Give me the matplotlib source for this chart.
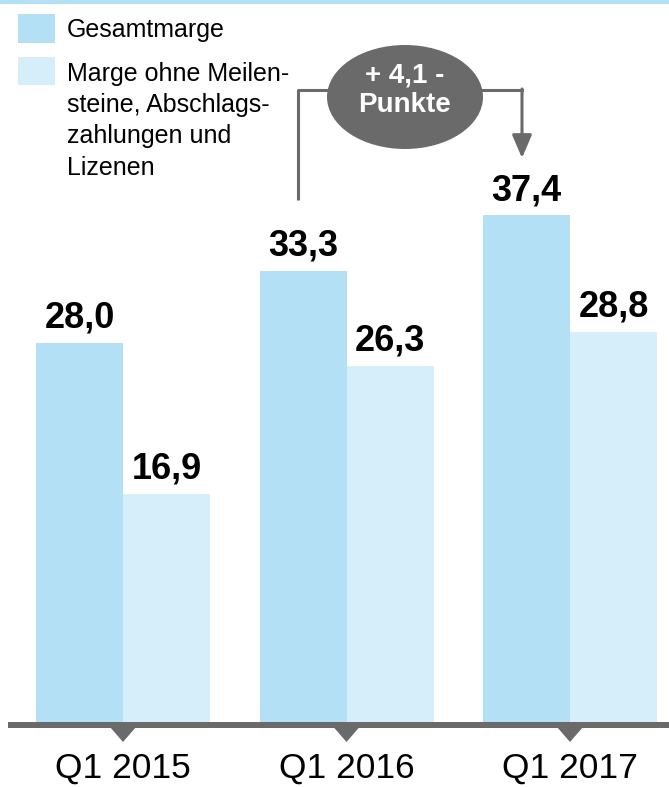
import matplotlib
matplotlib.use("Agg")
import matplotlib.pyplot as plt
from matplotlib.patches import Rectangle, Ellipse, FancyArrowPatch

categories = ["Q1 2015", "Q1 2016", "Q1 2017"]
gesamt = [28.0, 33.3, 37.4]
ohne = [16.9, 26.3, 28.8]
series_names = ["Gesamtmarge", "Marge ohne Meilen-\nsteine, Abschlags-\nzahlungen und\nLizenen"]
delta_label = "+ 4,1 -\nPunkte"

C_DARK = "#b3e0f5"
C_LIGHT = "#d6edfa"
GRAY = "#6a6a6a"
FONT = "Liberation Sans"

W, H = 669, 787
fig = plt.figure(figsize=(W / 100, H / 100), dpi=100)

PX_PER_UNIT = 13.57
BASE_PX = 723
SPACING = 223.5
X0_PX = 123
ax = fig.add_axes([0, (H - BASE_PX) / H, 1, BASE_PX / H])
ax.set_xlim(-X0_PX / SPACING, (W - X0_PX) / SPACING)
ax.set_ylim(0, BASE_PX / PX_PER_UNIT)
ax.axis("off")

bw = 87 / SPACING
xs = list(range(len(categories)))
ax.bar([x - bw / 2 for x in xs], gesamt, width=bw, color=C_DARK, linewidth=0)
ax.bar([x + bw / 2 for x in xs], ohne, width=bw, color=C_LIGHT, linewidth=0)

def fmt(v):
    return f"{v:.1f}".replace(".", ",")

for x, v in zip(xs, gesamt):
    ax.text(x - bw / 2, v + 0.55, fmt(v), ha="center", va="bottom",
            fontsize=26, fontweight="bold", family=FONT, color="black")
for x, v in zip(xs, ohne):
    ax.text(x + bw / 2, v + 0.55, fmt(v), ha="center", va="bottom",
            fontsize=26, fontweight="bold", family=FONT, color="black")

# overlay in pixel coordinates for decorations
ov = fig.add_axes([0, 0, 1, 1], facecolor="none")
ov.set_xlim(0, W)
ov.set_ylim(H, 0)
ov.axis("off")

# top line
ov.add_patch(Rectangle((0, 0), W, 3.5, color=C_DARK, linewidth=0))
# baseline
ov.add_patch(Rectangle((8, 722), W - 8, 5.5, color=GRAY, linewidth=0))
for x in xs:
    cx = X0_PX + x * SPACING
    ov.add_patch(plt.Polygon([(cx - 13, 727), (cx + 13, 727), (cx, 742)],
                             closed=True, color=GRAY, linewidth=0))
    ov.text(cx, 768, categories[x], ha="center", va="center", fontsize=25.5,
            family=FONT, color="black")

# legend
ov.add_patch(Rectangle((18, 14), 37, 29, color=C_DARK, linewidth=0))
ov.add_patch(Rectangle((18, 57), 37, 28, color=C_LIGHT, linewidth=0))
ov.text(67, 30, series_names[0], ha="left", va="center", fontsize=18,
        family=FONT, color="black")
ov.text(67, 62, series_names[1], ha="left", va="top", fontsize=18,
        family=FONT, color="black", linespacing=1.38)

# annotation
ov.plot([298, 298, 335], [200, 90, 90], color=GRAY, lw=2.2, solid_capstyle="butt")
ov.plot([475, 522], [90, 90], color=GRAY, lw=2.2)
ov.add_patch(FancyArrowPatch((522, 89), (522, 158), arrowstyle="-|>,head_width=6,head_length=14",
                             mutation_scale=1, color=GRAY, lw=2.2, shrinkA=0, shrinkB=0))
ov.add_patch(Ellipse((405, 97), 156, 104, color=GRAY, linewidth=0))
ov.text(405, 90, delta_label, ha="center", va="center", fontsize=20,
        fontweight="bold", family=FONT, color="white", linespacing=1.15)

fig.savefig("out.png", dpi=100)
